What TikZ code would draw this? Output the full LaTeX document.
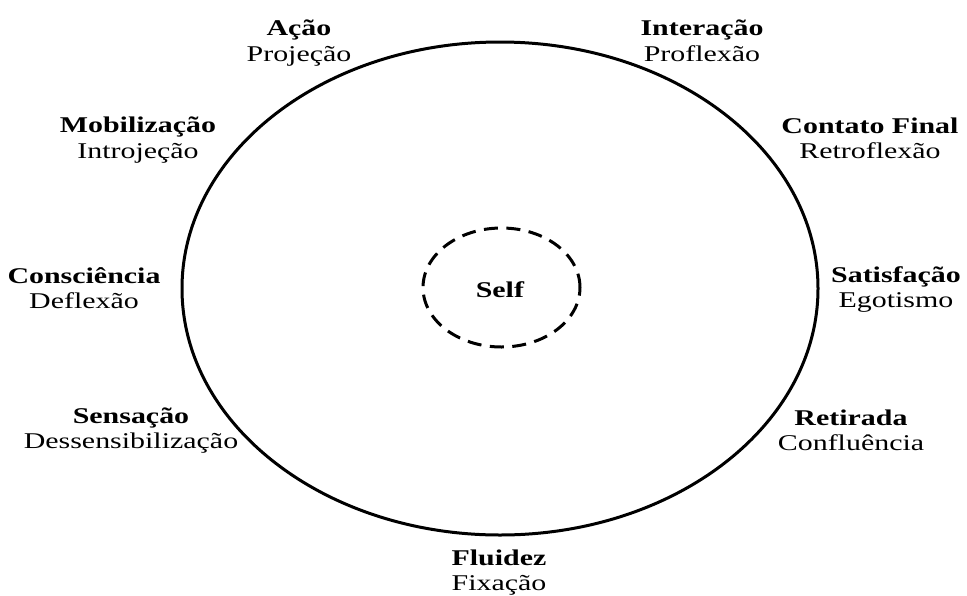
\documentclass[tikz,border=0pt]{standalone}
\usepackage{fontspec}
\setmainfont{Liberation Serif}[FakeStretch=1.33]
\usetikzlibrary{shapes.geometric}
\begin{document}
\begin{tikzpicture}[x=1pt,y=-1pt,
  lab/.style={anchor=base,align=center,inner sep=0pt,font=\fontsize{22.5}{25.5}\selectfont},
  ring/.style={draw,ellipse,inner sep=0pt,line width=3pt},
]
\useasboundingbox (0,0) rectangle (967,595);
\node[ring,minimum width=636pt,minimum height=493pt] (outer) at (500,288.5) {};
\node[ring,dash pattern=on 14pt off 8.5pt,minimum width=157pt,minimum height=119pt] (selfring) at (501.5,287.5) {};
\node[lab] (self) at (500,297) {\textbf{Self}};
\node[lab] (acao) at (299,61) {\textbf{Ação}\\Projeção};
\node[lab] (interacao) at (702,61) {\textbf{Interação}\\Proflexão};
\node[lab] (contato) at (870,158.5) {\textbf{Contato Final}\\Retroflexão};
\node[lab] (mobilizacao) at (138,158) {\textbf{Mobilização}\\Introjeção};
\node[lab] (consciencia) at (84,308.5) {\textbf{Consciência}\\Deflexão};
\node[lab] (satisfacao) at (896,307.5) {\textbf{Satisfação}\\Egotismo};
\node[lab] (sensacao) at (131,448.5) {\textbf{Sensação}\\Dessensibilização};
\node[lab] (retirada) at (851,450.5) {\textbf{Retirada}\\Confluência};
\node[lab] (fluidez) at (499,590.5) {\textbf{Fluidez}\\Fixação};
\end{tikzpicture}
\end{document}
